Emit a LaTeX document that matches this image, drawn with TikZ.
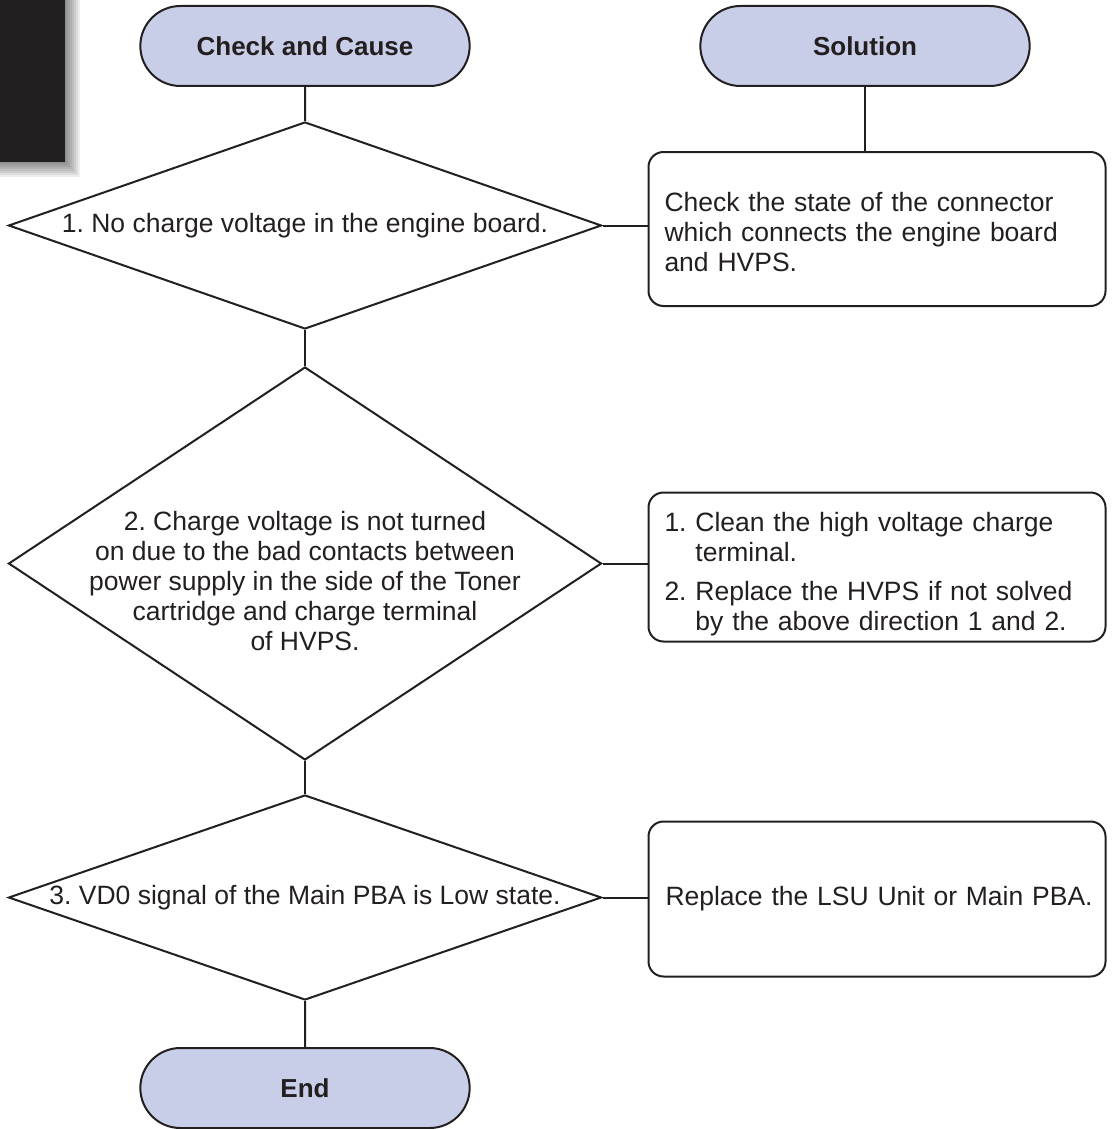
\documentclass[tikz,border=0pt]{standalone}
\usepackage{fontspec}
\setmainfont{Liberation Sans}
\frenchspacing
\usetikzlibrary{shapes.geometric,shapes.misc}
\definecolor{ink}{HTML}{231F20}
\definecolor{lilac}{HTML}{C9CEE8}

\begin{document}
\begin{tikzpicture}[x=1pt,y=-1pt,line width=2pt,color=ink,
  font=\fontsize{26.5}{30}\selectfont,
  term/.style={draw,fill=lilac,rounded rectangle,minimum width=336pt,minimum height=80pt,font=\fontsize{26}{30}\selectfont\bfseries},
  decision/.style={draw,diamond,inner sep=0pt,minimum width=593pt},
  dtext/.style={align=center,inner sep=0pt},
  fixbox/.style={draw,rounded corners=15pt,minimum width=457pt,text width=425pt,inner xsep=16pt,align=left}]
\useasboundingbox (0,0) rectangle (1111,1129);
% tab in the corner
\foreach \i in {0,...,7}
  \fill[black,opacity=.07] (0,0) rectangle (66+2*\i,163+2*\i);
\fill[ink] (0,0) rectangle (65,162);
% left column
\node[term] (cc) at (305,46) {Check and Cause};
\node[decision,minimum height=207pt] (d1) at (305,225.5) {};
\node[dtext] (t1) at (d1.center) {1. No charge voltage in the engine board.};
\node[decision,minimum height=393pt] (d2) at (305,563.5) {};
\node[dtext] (t2) at (305,581) {2. Charge voltage is not turned\\on due to the bad contacts between\\power supply in the side of the Toner\\cartridge and charge terminal\\of HVPS.};
\node[decision,minimum height=205pt] (d3) at (305,897.5) {};
\node[dtext] (t3) at (d3.center) {3. VD0 signal of the Main PBA is Low state.};
\node[term] (endn) at (305,1088) {End};
% right column
\node[term] (sol) at (865,46) {Solution};
\node[fixbox,minimum height=154pt] (s1) at (877,229) {\rule{0pt}{25pt}Check the state of the connector\\which connects the engine board\\and HVPS.};
\node[fixbox,minimum height=149pt] (s2) at (877,567) {\rule{0pt}{33pt}1.~Clean the high voltage charge\\\phantom{1.~}terminal.\\[9pt]2.~Replace the HVPS if not solved\\\phantom{2.~}by the above direction 1 and 2.};
\node[fixbox,minimum height=155pt,text width=447pt,inner xsep=5pt] (s3) at (877,899) {\hspace*{12pt}Replace the LSU Unit or Main PBA.};
\draw (cc) -- (d1);
\draw (d1) -- (d2);
\draw (d2) -- (d3);
\draw (d3) -- (endn);
\draw (sol.south) -- (sol.south |- s1.north);
\draw (d1.east) -- (d1.east -| s1.west);
\draw (d2.east) -- (d2.east -| s2.west);
\draw (d3.east) -- (d3.east -| s3.west);
\end{tikzpicture}
\end{document}
